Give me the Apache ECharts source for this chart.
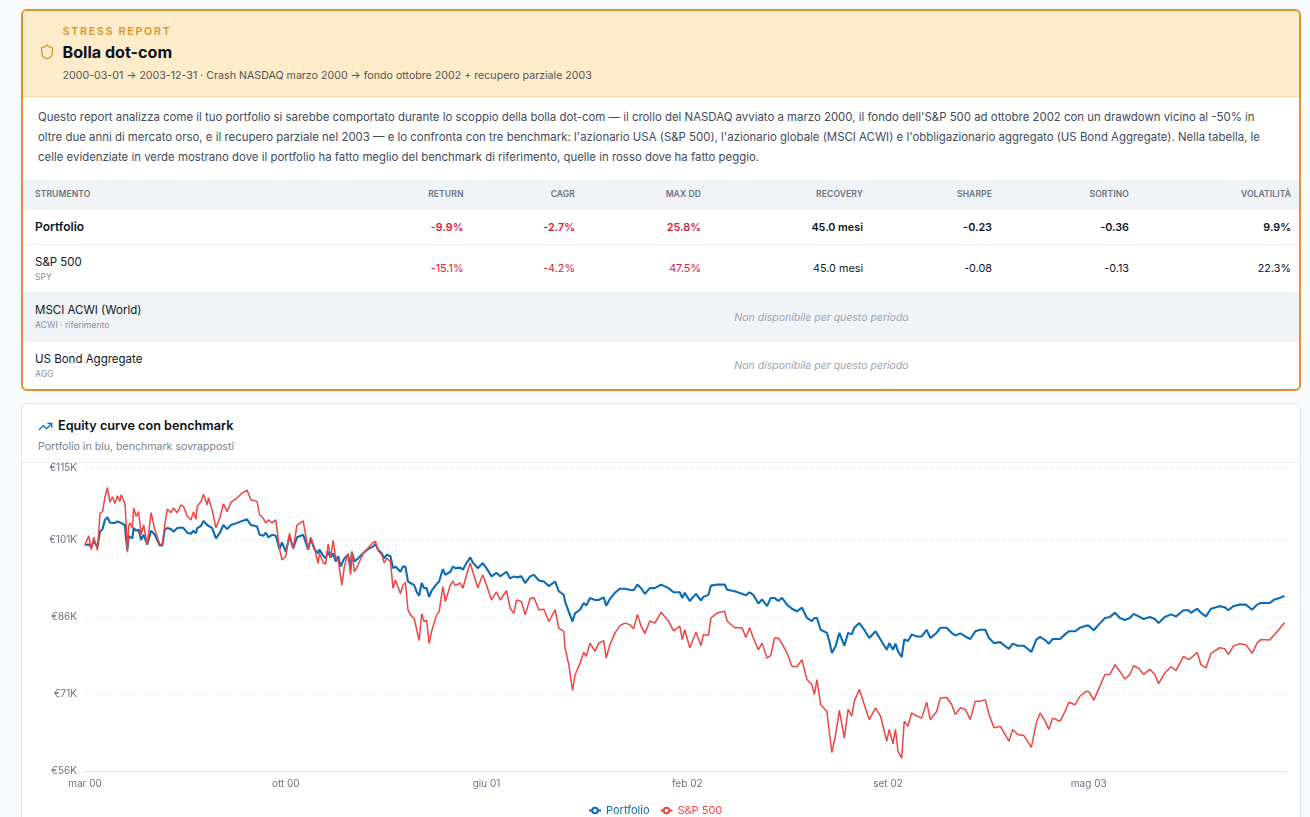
<!DOCTYPE html>
<html lang="it">
<head>
<meta charset="utf-8">
<title>Stress report - Bolla dot-com</title>
<script src="https://cdn.jsdelivr.net/npm/echarts@6/dist/echarts.min.js"></script>
<style>
  html, body { margin: 0; padding: 0; width: 1310px; height: 817px; overflow: hidden; background: #f8fafc; }
  body { font-family: Inter, "Noto Sans", sans-serif; color: #0f172a; position: relative; }
  .stress { position: absolute; left: 21px; top: 9px; width: 1276px; height: 378px; border: 2px solid #d9962b; border-radius: 6px; background: #fff; overflow: hidden; }
  .stress-head { position: relative; height: 85px; background: #feeccb; border-bottom: 1px solid #f8d79c; }
  .stress-head svg { position: absolute; left: 16px; top: 33px; }
  .kicker { position: absolute; left: 39.5px; top: 13.5px; font-size: 10.8px; font-weight: 600; letter-spacing: 1.65px; color: #d9962b; line-height: 14px; }
  .stress-head h2 { position: absolute; left: 39.5px; top: 30px; margin: 0; font-size: 16.1px; font-weight: 700; line-height: 22px; color: #0b1220; }
  .period { position: absolute; left: 39.5px; top: 58px; font-size: 10.65px; color: #57534e; line-height: 14px; white-space: nowrap; }
  .intro { height: 83px; box-sizing: border-box; padding: 10px 0 0 15px; font-size: 11.42px; line-height: 20px; color: #3f4a5a; white-space: nowrap; }
  .row { display: grid; grid-template-columns: 317px 123.5px 111.5px 126px 162px 129px 137px 162px; align-items: center; text-align: right; font-size: 10.8px; color: #0f172a; }
  .row > :first-child { text-align: left; padding-left: 12px; }
  .row.th { height: 28px; padding-bottom: 2px; background: #f1f4f7; font-size: 8.55px; font-weight: 600; color: #6b7280; letter-spacing: .1px; }
  .row.pf { height: 34px; border-bottom: 1px solid #e8edf2; font-weight: 600; }
  .row.bm { height: 47px; }
  .row.alt { background: #f1f4f7; height: 49.5px; }
  .name { font-size: 11.5px; line-height: 16px; color: #0f172a; }
  .sub { position: relative; top: 1px; font-size: 8.6px; line-height: 13px; color: #8a8f98; }
  .neg { color: #dc1c3c; }
  .na { grid-column: 2 / 9; text-align: center; padding-left: 12px; font-style: italic; font-size: 10.5px; color: #9ca3af; }
  .alt .na { padding-top: 2px; }
  .curve { position: absolute; left: 21px; top: 403px; width: 1278px; height: 460px; border: 1px solid #e2e8f0; border-radius: 6px; background: #fff; overflow: hidden; }
  .curve-head { position: relative; height: 58px; border-bottom: 1px solid #e9edf2; }
  .curve-head svg { position: absolute; left: 16px; top: 15px; }
  .curve-head h3 { position: absolute; left: 36px; top: 13px; margin: 0; font-size: 12.65px; font-weight: 600; line-height: 18px; color: #0b1220; }
  .curve-head p { position: absolute; left: 16px; top: 36px; margin: 0; font-size: 10.6px; line-height: 14px; color: #7c828c; }
  #equity { width: 1278px; height: 390px; }
</style>
</head>
<body>
<section class="stress">
  <div class="stress-head">
    <svg width="16" height="16" viewBox="0 0 24 24" fill="none" stroke="#d9962b" stroke-width="2" stroke-linecap="round" stroke-linejoin="round"><path d="M20 13c0 5-3.5 7.5-7.66 8.95a1 1 0 0 1-.67-.01C7.5 20.5 4 18 4 13V6a1 1 0 0 1 1-1c2 0 4.5-1.2 6.24-2.72a1.17 1.17 0 0 1 1.52 0C14.51 3.81 17 5 19 5a1 1 0 0 1 1 1z"/></svg>
    <div class="kicker">STRESS REPORT</div>
    <h2>Bolla dot-com</h2>
    <div class="period">2000-03-01 → 2003-12-31 · Crash NASDAQ marzo 2000 → fondo ottobre 2002 + recupero parziale 2003</div>
  </div>
  <div class="intro">Questo report analizza come il tuo portfolio si sarebbe comportato durante lo scoppio della bolla dot-com — il crollo del NASDAQ avviato a marzo 2000, il fondo dell'S&amp;P 500 ad ottobre 2002 con un drawdown vicino al -50% in<br>oltre due anni di mercato orso, e il recupero parziale nel 2003 — e lo confronta con tre benchmark: l'azionario USA (S&amp;P 500), l'azionario globale (MSCI ACWI) e l'obbligazionario aggregato (US Bond Aggregate). Nella tabella, le<br>celle evidenziate in verde mostrano dove il portfolio ha fatto meglio del benchmark di riferimento, quelle in rosso dove ha fatto peggio.</div>
  <div class="row th"><div>STRUMENTO</div><div>RETURN</div><div>CAGR</div><div>MAX DD</div><div>RECOVERY</div><div>SHARPE</div><div>SORTINO</div><div>VOLATILITÀ</div></div>
  <div class="row pf"><div class="name" style="font-weight:600;font-size:12px">Portfolio</div><div class="neg">-9.9%</div><div class="neg">-2.7%</div><div class="neg">25.8%</div><div>45.0 mesi</div><div>-0.23</div><div>-0.36</div><div>9.9%</div></div>
  <div class="row bm"><div><div class="name">S&amp;P 500</div><div class="sub">SPY</div></div><div class="neg">-15.1%</div><div class="neg">-4.2%</div><div class="neg">47.5%</div><div>45.0 mesi</div><div>-0.08</div><div>-0.13</div><div>22.3%</div></div>
  <div class="row alt"><div><div class="name">MSCI ACWI (World)</div><div class="sub">ACWI · riferimento</div></div><div class="na">Non disponibile per questo periodo</div></div>
  <div class="row bm"><div><div class="name">US Bond Aggregate</div><div class="sub">AGG</div></div><div class="na">Non disponibile per questo periodo</div></div>
</section>
<section class="curve">
  <div class="curve-head">
    <svg width="15" height="15" viewBox="0 0 24 24" fill="none" stroke="#0b6cb5" stroke-width="2" stroke-linecap="round" stroke-linejoin="round"><path d="M22 7 13.5 15.5 8.5 10.5 2 17"/><path d="M16 7h6v6"/></svg>
    <h3>Equity curve con benchmark</h3>
    <p>Portfolio in blu, benchmark sovrapposti</p>
  </div>
  <div id="equity"></div>
</section>
<script>
// Trading-day offsets from 2000-03-01, shared by both curves
const tradingDays = [0,3,5,7,10,12,14,16,18,20,22,24,26,28,29,32,33,34,35,36,38,39,41,43,45,47,50,53,56,60,62,64,66,69,71,74,77,79,82,85,87,89,90,93,95,98,99,102,105,108,111,114,117,122,126,130,133,138,140,143,145,147,150,153,156,158,161,164,167,170,175,179,181,184,187,
  188,191,193,195,197,199,201,203,205,206,208,211,213,214,216,219,223,227,231,233,235,238,240,242,245,247,249,253,255,257,259,261,264,266,268,270,272,274,276,278,282,284,287,289,293,295,297,301,303,306,309,311,315,319,322,326,330,333,338,341,344,346,350,353,357,360,364,368,372,377,380,384,385,388,391,393,397,400,402,405,409,412,416,418,
  421,425,429,433,437,440,443,446,449,453,457,462,468,472,477,479,481,485,490,494,496,500,502,507,513,515,521,527,530,533,536,540,543,547,550,553,556,559,563,567,571,575,579,583,585,587,590,595,597,599,602,605,609,612,615,617,621,625,629,634,638,643,645,648,650,652,655,657,660,663,667,671,675,678,683,686,691,695,698,
  702,706,710,714,718,722,725,729,734,738,741,744,748,753,759,763,766,770,773,776,782,786,789,794,798,803,805,809,813,818,822,826,830,834,838,841,845,849,854,858,861,866,871,875,881,885,887,892,895,899,903,910,914,917,921,926,931,936,940,943,950,954,958,962];

// Portfolio value, thousands of euro
const portfolioK = [100.0,100.1,99.6,100.7,99.7,102.6,103.1,104.9,105.4,104.4,104.3,104.3,104.6,104.4,104.6,103.9,101.0,99.1,101.7,101.5,101.3,103.3,102.8,103.0,101.0,102.0,100.1,102.8,102.0,99.9,99.9,103.0,103.3,103.1,102.6,103.3,103.4,103.3,102.4,102.2,102.8,102.3,103.3,103.7,104.7,103.9,104.1,103.3,101.3,102.3,103.9,103.1,103.9,104.3,104.7,105.0,103.9,103.6,102.0,101.8,102.4,101.5,102.0,101.8,99.2,100.5,98.7,101.7,99.4,101.5,102.0,99.1,101.3,99.2,98.4,
  99.1,97.9,97.4,98.7,97.6,98.4,96.8,97.8,95.8,95.8,97.4,98.1,95.2,98.7,96.8,97.4,98.4,99.2,99.7,100.2,99.1,98.4,97.4,98.1,97.8,95.5,95.8,94.8,95.8,95.8,92.9,92.6,92.2,90.9,90.1,92.6,91.6,91.6,89.9,91.1,92.4,92.9,95.3,94.2,94.8,95.8,95.5,95.6,95.2,96.5,97.6,96.6,95.5,96.5,95.5,93.9,94.6,93.9,94.8,93.5,93.9,93.7,93.9,92.6,93.9,94.2,93.1,92.9,92.0,92.9,91.0,90.3,89.0,87.0,85.1,86.7,87.4,88.7,88.2,89.7,89.3,89.3,89.8,88.2,
  89.5,90.7,91.5,91.5,91.3,91.2,92.3,91.6,90.5,91.6,91.6,92.3,91.6,90.8,90.8,89.7,90.7,89.1,90.5,89.2,89.9,90.3,92.1,92.3,92.3,91.3,91.0,90.5,90.2,90.8,90.3,88.6,89.4,88.1,89.7,89.7,89.1,89.7,88.4,87.6,87.1,87.8,85.8,85.2,85.8,85.8,83.5,82.9,81.2,79.0,80.3,82.9,80.4,82.9,82.6,83.9,84.8,83.5,81.9,83.2,81.6,79.6,80.9,79.6,80.8,79.3,78.2,81.6,81.3,82.6,82.2,82.2,83.5,81.9,82.9,83.9,83.9,82.9,82.4,
  82.8,82.2,81.7,83.2,83.5,83.5,81.9,80.9,81.1,80.3,79.8,80.8,80.4,80.4,79.2,81.6,82.1,81.5,80.8,81.7,81.7,82.6,83.2,83.2,83.9,84.3,84.3,83.4,84.5,85.8,86.0,86.8,85.8,85.4,85.8,86.6,86.1,85.6,86.0,85.6,84.8,86.0,86.5,86.1,87.3,87.3,86.8,87.6,86.8,86.1,87.6,88.1,87.9,87.3,88.1,88.4,88.4,87.4,88.4,88.7,88.7,89.4,89.7,90.1];

// S&P 500 rebased to the same starting capital, thousands of euro
const sp500K = [100.0,101.8,99.1,101.5,99.0,106.2,106.5,109.3,111.2,108.3,109.4,108.1,109.6,108.5,109.8,108.1,104.3,98.6,103.6,104.3,103.3,107.2,105.6,106.5,102.0,103.9,100.1,106.3,103.0,100.1,100.1,103.9,107.0,106.3,107.2,106.3,107.8,107.5,105.6,104.9,106.5,105.0,107.5,108.5,109.9,107.8,109.2,106.8,103.3,105.2,108.0,106.5,108.3,109.2,110.1,110.7,108.8,108.5,105.9,105.2,104.3,104.9,104.3,104.9,99.2,97.1,97.8,102.3,99.2,103.9,104.7,99.1,101.5,99.4,96.4,
  98.4,96.6,96.3,100.2,97.6,100.9,97.6,97.1,93.9,92.2,95.8,98.4,94.2,98.7,94.8,96.1,98.4,99.4,100.5,100.7,98.9,98.1,96.5,97.4,96.8,91.6,93.2,90.5,92.2,92.7,87.4,86.4,85.7,83.5,81.4,86.6,85.1,85.4,80.8,83.2,86.4,87.0,91.9,89.0,92.2,93.0,92.1,92.6,91.6,94.2,96.5,94.8,91.7,94.2,92.2,89.3,90.9,89.3,91.1,87.7,86.7,89.3,89.0,86.4,89.6,89.8,87.4,87.5,85.1,87.4,83.8,83.2,79.9,76.7,71.7,74.7,77.0,79.1,78.3,80.9,79.3,80.9,81.4,78.0,
  80.6,82.9,84.3,84.8,84.5,83.7,86.5,84.2,82.8,85.2,84.8,86.9,85.2,83.3,84.2,81.6,83.5,80.0,83.0,80.4,82.6,82.4,85.8,86.8,87.1,85.2,83.9,83.9,82.0,83.9,81.9,79.6,80.9,78.0,78.5,81.9,81.9,80.8,79.0,76.4,76.3,77.7,73.8,72.8,70.9,73.8,68.9,67.6,63.4,59.6,63.1,67.8,62.4,68.0,66.7,69.6,71.9,68.9,66.0,68.3,66.7,61.8,64.1,61.3,64.1,59.8,58.5,65.7,64.7,67.3,66.7,66.3,69.4,66.0,67.6,70.2,70.3,69.0,67.0,
  68.3,68.0,66.0,69.6,69.6,69.9,67.0,64.4,64.7,63.1,61.8,64.1,63.1,62.9,60.6,65.4,67.3,65.7,64.1,66.3,65.7,67.6,69.4,68.9,70.6,71.5,71.5,69.8,72.0,74.8,74.8,76.7,75.4,73.9,74.8,76.5,76.0,74.8,75.8,74.8,73.0,75.1,76.3,75.6,78.3,77.7,78.0,79.1,76.7,76.1,78.9,80.0,79.8,78.7,80.3,80.8,80.6,78.9,80.9,81.6,81.5,82.6,83.7,84.9];

const xTickEvery = 161;
const xTickLabels = ['mar 00', 'ott 00', 'giu 01', 'feb 02', 'set 02', 'mag 03'];
const yTicksK = [56, 71, 86, 101, 115];
const lastDay = 964;
const seriesNames = ['Portfolio', 'S&P 500'];
const seriesColors = ['#0b6cb5', '#ef4444'];

const pairs = values => values.map((v, i) => [tradingDays[i], v]);
const chart = echarts.init(document.getElementById('equity'), null, { renderer: 'canvas' });
chart.setOption({
  animation: false,
  grid: { left: 63, right: 13, top: 5, bottom: 82 },
  legend: {
    left: 561, top: 337, itemWidth: 12, itemHeight: 7, itemGap: 10,
    data: seriesNames.map((name, i) => ({ name, textStyle: { color: seriesColors[i], fontSize: 11, fontFamily: 'Inter' } }))
  },
  xAxis: {
    type: 'value', min: 0, max: lastDay, interval: xTickEvery,
    axisLine: { lineStyle: { color: '#e2e8f0', width: 1 } },
    axisTick: { show: false }, splitLine: { show: false },
    axisLabel: {
      color: '#6b7280', fontSize: 10, fontFamily: 'Inter', margin: 8, showMaxLabel: false,
      formatter: v => xTickLabels[v / xTickEvery] || ''
    }
  },
  yAxis: {
    type: 'value', min: yTicksK[0], max: yTicksK[yTicksK.length - 1],
    axisLine: { show: false },
    axisTick: { show: false, customValues: yTicksK },
    splitLine: { show: true, customValues: yTicksK, lineStyle: { color: '#e5e7eb', width: 1, type: [2, 4] } },
    axisLabel: { customValues: yTicksK, color: '#6b7280', fontSize: 10, fontFamily: 'Inter', margin: 8, padding: [2, 0, 0, 0], formatter: v => '€' + v + 'K' }
  },
  series: [
    { name: seriesNames[0], type: 'line', data: pairs(portfolioK), showSymbol: false, lineStyle: { color: seriesColors[0], width: 2.1 }, itemStyle: { color: seriesColors[0] } },
    { name: seriesNames[1], type: 'line', data: pairs(sp500K), showSymbol: false, lineStyle: { color: seriesColors[1], width: 1.5 }, itemStyle: { color: seriesColors[1] } }
  ]
});
</script>
</body>
</html>
